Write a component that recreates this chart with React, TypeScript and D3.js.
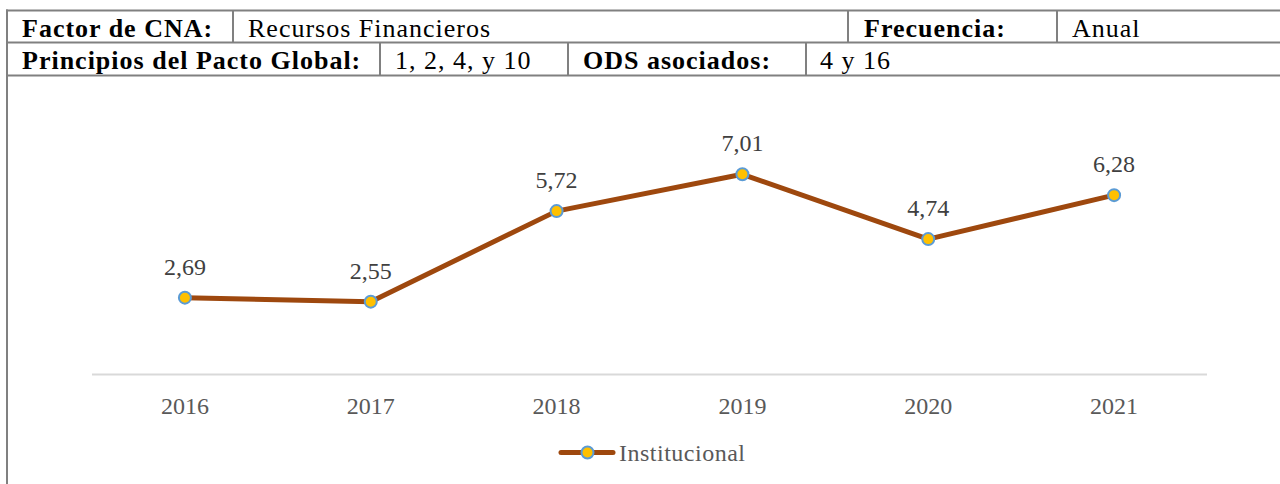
import React from "react";
import * as d3 from "d3";

const years = ["2016", "2017", "2018", "2019", "2020", "2021"];
const institucional = [2.69, 2.55, 5.72, 7.01, 4.74, 6.28];
const seriesName = "Institucional";
const yDomain = [0, 8];

const row1Labels = ["Factor de CNA:", "Recursos Financieros", "Frecuencia:", "Anual"];
const row2Labels = ["Principios del Pacto Global:", "1, 2, 4, y 10", "ODS asociados:", "4 y 16"];

const W = 1280;
const H = 484;
const FONT = "'Liberation Serif', 'Times New Roman', serif";
const BORDER = "#808080";
const LINE = "#9E480E";
const MFILL = "#FFC000";
const MSTROKE = "#5B9BD5";

const fmt = d3.formatLocale({ decimal: ",", thousands: ".", grouping: [3], currency: ["", ""] }).format(".2f");

export default function App() {
  const x = d3.scaleBand<string>().domain(years).range([92, 1207]);
  const y = d3.scaleLinear().domain(yDomain).range([374.5, 146]);
  const cx = (d: string) => (x(d) as number) + x.bandwidth() / 2;
  const pts: [number, number][] = years.map((yr, i) => [cx(yr), y(institucional[i])]);
  const linePath = d3.line()(pts) as string;

  const row1X = [22, 248, 864, 1072];
  const row1Bold = [true, false, true, false];
  const row2X = [22, 395, 583, 820];
  const row2Bold = [true, false, true, false];
  const row1Div = [233, 848, 1057];
  const row2Div = [380, 568, 806];

  return (
    <svg width={W} height={H} style={{ position: "absolute", left: 0, top: 0, background: "#fff" }} fontFamily={FONT}>
      <rect x={0} y={0} width={W} height={H} fill="#fff" />
      {/* table borders */}
      <g stroke={BORDER} strokeWidth={2} fill="none">
        <line x1={6} x2={W} y1={10.5} y2={10.5} />
        <line x1={6} x2={W} y1={42.5} y2={42.5} />
        <line x1={6} x2={W} y1={75.5} y2={75.5} />
        <line x1={7} x2={7} y1={9.5} y2={H} />
        {row1Div.map((d, i) => (
          <line key={"r1" + i} x1={d} x2={d} y1={10.5} y2={42.5} />
        ))}
        {row2Div.map((d, i) => (
          <line key={"r2" + i} x1={d} x2={d} y1={42.5} y2={75.5} />
        ))}
      </g>
      {row1Labels.map((t, i) => (
        <text key={"t1" + i} x={row1X[i]} y={36.5} fontSize={26} fontWeight={row1Bold[i] ? "bold" : "normal"} letterSpacing={1} fill="#000">
          {t}
        </text>
      ))}
      {row2Labels.map((t, i) => (
        <text key={"t2" + i} x={row2X[i]} y={68.5} fontSize={26} fontWeight={row2Bold[i] ? "bold" : "normal"} letterSpacing={1} fill="#000">
          {t}
        </text>
      ))}

      {/* axis */}
      <line x1={92} x2={1207} y1={y(0)} y2={y(0)} stroke="#D9D9D9" strokeWidth={2} />
      {years.map((yr) => (
        <text key={yr} x={cx(yr)} y={414} textAnchor="middle" fontSize={24} fill="#595959">
          {yr}
        </text>
      ))}

      {/* series */}
      <path d={linePath} fill="none" stroke={LINE} strokeWidth={5} strokeLinejoin="round" strokeLinecap="round" />
      {pts.map((p, i) => (
        <circle key={"c" + i} cx={p[0]} cy={p[1]} r={6} fill={MFILL} stroke={MSTROKE} strokeWidth={2} />
      ))}
      {pts.map((p, i) => (
        <text key={"l" + i} x={p[0]} y={p[1] - 23} textAnchor="middle" fontSize={24} fill="#404040">
          {fmt(institucional[i])}
        </text>
      ))}

      {/* legend */}
      <line x1={561} x2={613} y1={452.5} y2={452.5} stroke={LINE} strokeWidth={5} strokeLinecap="round" />
      <circle cx={587.5} cy={452.5} r={6} fill={MFILL} stroke={MSTROKE} strokeWidth={2} />
      <text x={619} y={461} fontSize={24} fill="#595959" letterSpacing={0.5}>
        {seriesName}
      </text>
    </svg>
  );
}
